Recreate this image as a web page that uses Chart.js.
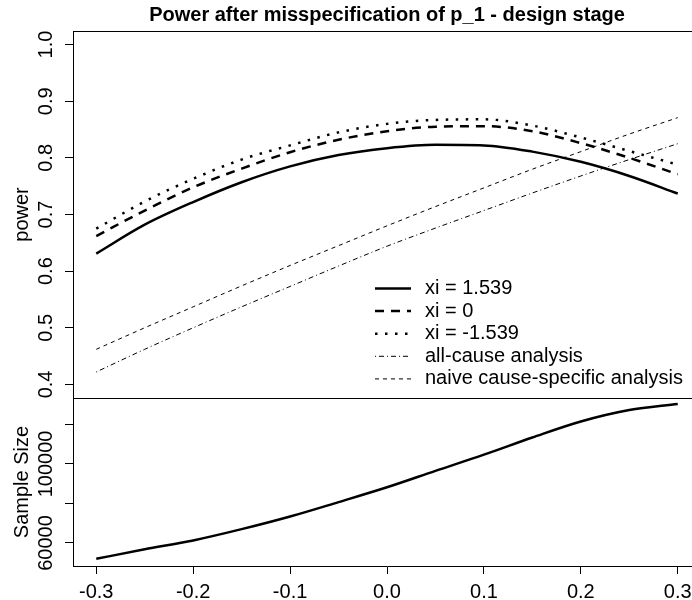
<!DOCTYPE html>
<html>
<head>
<meta charset="utf-8">
<script src="https://cdn.jsdelivr.net/npm/chart.js@4.4.0/dist/chart.umd.min.js"></script>
<style>
  html, body { margin: 0; padding: 0; background: #fff; overflow: hidden; }
  #wrap { width: 720px; height: 600px; }
</style>
</head>
<body>
<div id="wrap"><canvas id="myChart" width="720" height="600"></canvas></div>
<script>
// values
const delta = [-0.3, -0.25, -0.2, -0.15, -0.1, -0.05, 0, 0.05, 0.1, 0.15, 0.2, 0.25, 0.3];
const powerXiPos = [0.631, 0.682, 0.722, 0.757, 0.785, 0.805, 0.817, 0.823, 0.822, 0.811, 0.793, 0.768, 0.737];
const powerXiZero = [0.662, 0.707, 0.748, 0.781, 0.810, 0.832, 0.847, 0.855, 0.856, 0.847, 0.826, 0.800, 0.771];
const powerXiNeg = [0.675, 0.723, 0.763, 0.797, 0.822, 0.845, 0.860, 0.867, 0.868, 0.857, 0.836, 0.812, 0.788];
const powerAllCause = [0.422, 0.462, 0.500, 0.537, 0.573, 0.609, 0.644, 0.676, 0.707, 0.738, 0.768, 0.797, 0.825];
const powerNaive = [0.462, 0.500, 0.537, 0.574, 0.610, 0.645, 0.680, 0.714, 0.747, 0.780, 0.811, 0.842, 0.871];
const sampleSize = [52000, 56800, 61300, 67000, 73400, 80700, 88200, 96500, 104700, 113400, 121500, 127300, 130400];

const xTicks = [-0.3, -0.2, -0.1, 0, 0.1, 0.2, 0.3];
const powerTicks = [0.4, 0.5, 0.6, 0.7, 0.8, 0.9, 1.0];
const powerTickLabels = ['0.4', '0.5', '0.6', '0.7', '0.8', '0.9', '1.0'];
const sizeTicks = [60000, 80000, 100000, 120000];
const sizeTickLabels = ['60000', '', '100000', ''];

const titleText = 'Power after misspecification of p_1 - design stage';
const FONT = "'Liberation Sans', Arial, Helvetica, sans-serif";

function pts(ys) {
  return delta.map((x, i) => ({ x: x, y: ys[i] }));
}

const series = [
  { label: 'xi = 1.539', data: powerXiPos, width: 2.5, dash: [] },
  { label: 'xi = 0', data: powerXiZero, width: 2.5, dash: [9, 7] },
  { label: 'xi = -1.539', data: powerXiNeg, width: 2.5, dash: [2.5, 7.5] },
  { label: 'all-cause analysis', data: powerAllCause, width: 1, dash: [1, 3, 5, 3] },
  { label: 'naive cause-specific analysis', data: powerNaive, width: 1, dash: [4, 4] }
];

const datasets = series.map(s => ({
  label: s.label,
  data: pts(s.data),
  yAxisID: 'yPower',
  borderColor: '#000',
  borderWidth: s.width,
  borderDash: s.dash,
  pointRadius: 0,
  fill: false,
  cubicInterpolationMode: 'monotone'
}));
datasets.push({
  label: 'Sample Size',
  data: pts(sampleSize),
  yAxisID: 'ySize',
  borderColor: '#000',
  borderWidth: 2.5,
  pointRadius: 0,
  fill: false,
  cubicInterpolationMode: 'monotone'
});

// title over the plot region, frame lines, rotated y tick labels, legend (R style)
const rStyle = {
  id: 'rStyle',
  afterDraw(chart) {
    const ctx = chart.ctx;
    const area = chart.chartArea;
    const yp = chart.scales.yPower;
    const ys = chart.scales.ySize;
    ctx.save();
    ctx.fillStyle = '#000';
    ctx.font = 'bold 20px ' + FONT;
    ctx.textAlign = 'center';
    ctx.textBaseline = 'middle';
    ctx.fillText(titleText, (area.left + area.right) / 2, 15);

    ctx.strokeStyle = '#000';
    ctx.lineWidth = 1;
    ctx.setLineDash([]);
    ctx.beginPath();
    ctx.moveTo(area.left, Math.round(area.top) + 0.5);
    ctx.lineTo(area.right, Math.round(area.top) + 0.5);
    ctx.moveTo(area.left, Math.round(yp.bottom) + 0.5);
    ctx.lineTo(area.right, Math.round(yp.bottom) + 0.5);
    ctx.stroke();

    ctx.font = '20px ' + FONT;
    const drawLabels = (scale, values, labels) => {
      values.forEach((v, i) => {
        if (!labels[i]) return;
        ctx.save();
        ctx.translate(46, scale.getPixelForValue(v));
        ctx.rotate(-Math.PI / 2);
        ctx.fillText(labels[i], 0, 0);
        ctx.restore();
      });
    };
    drawLabels(yp, powerTicks, powerTickLabels);
    drawLabels(ys, sizeTicks, sizeTickLabels);

    // legend
    const lx0 = 375, lx1 = 411, tx = 425;
    ctx.textAlign = 'left';
    series.forEach((s, i) => {
      const y = 288.5 + i * 22.6;
      ctx.beginPath();
      ctx.lineWidth = s.width;
      ctx.setLineDash(s.dash);
      ctx.moveTo(lx0, y);
      ctx.lineTo(lx1, y);
      ctx.stroke();
      ctx.fillText(s.label, tx, y);
    });
    ctx.restore();
  }
};

const tickSetter = list => scale => { scale.ticks = list.map(v => ({ value: v })); };

new Chart(document.getElementById('myChart').getContext('2d'), {
  type: 'line',
  data: { datasets: datasets },
  options: {
    responsive: false,
    animation: false,
    devicePixelRatio: 1,
    layout: { padding: { left: 0, right: 19, top: 31, bottom: 0 } },
    plugins: {
      legend: { display: false },
      tooltip: { enabled: false },
      title: { display: false }
    },
    scales: {
      x: {
        type: 'linear',
        position: 'bottom',
        min: -0.324,
        max: 0.324,
        afterBuildTicks: tickSetter(xTicks),
        afterFit: s => { s.height = 34; },
        ticks: {
          color: '#000',
          font: { family: FONT, size: 20 },
          padding: 6,
          maxRotation: 0,
          callback: v => Number(v).toFixed(1)
        },
        grid: { drawOnChartArea: false, tickLength: 8, color: '#000' },
        border: { color: '#000', width: 1 }
      },
      ySize: {
        type: 'linear',
        position: 'left',
        stack: 'panels',
        stackWeight: 168,
        min: 48350,
        max: 133400,
        afterBuildTicks: tickSetter(sizeTicks),
        afterFit: s => { s.width = 73; },
        ticks: { display: false },
        grid: { drawOnChartArea: false, tickLength: 8, color: '#000' },
        border: { color: '#000', width: 1 },
        title: {
          display: true,
          text: 'Sample Size',
          color: '#000',
          font: { family: FONT, size: 20 },
          padding: { top: 10, bottom: 0 }
        }
      },
      yPower: {
        type: 'linear',
        position: 'left',
        stack: 'panels',
        stackWeight: 367,
        min: 0.376,
        max: 1.024,
        afterBuildTicks: tickSetter(powerTicks),
        afterFit: s => { s.width = 73; },
        ticks: { display: false },
        grid: { drawOnChartArea: false, tickLength: 8, color: '#000' },
        border: { color: '#000', width: 1 },
        title: {
          display: true,
          text: 'power',
          color: '#000',
          font: { family: FONT, size: 20 },
          padding: { top: 10, bottom: 0 }
        }
      }
    }
  },
  plugins: [rStyle]
});
</script>
</body>
</html>
